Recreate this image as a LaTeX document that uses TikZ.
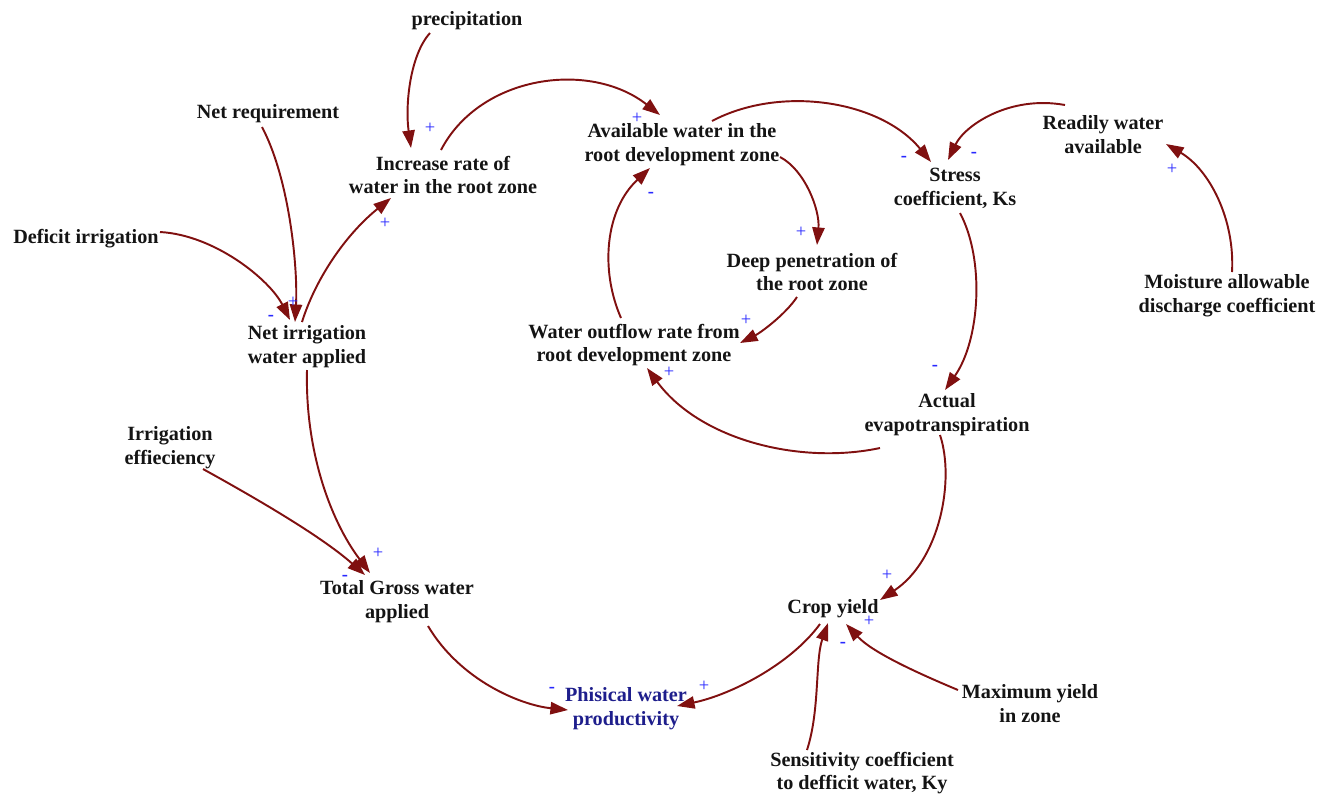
\documentclass[tikz,border=0pt]{standalone}
\usepackage{fontspec}
\setmainfont{Liberation Serif}
\usetikzlibrary{arrows.meta,calc}
\definecolor{linkred}{RGB}{128,16,16}
\definecolor{polblue}{RGB}{40,40,255}
\definecolor{physblue}{RGB}{30,30,140}
\begin{document}
\begin{tikzpicture}[x=0.02cm,y=-0.02cm,
  lbl/.style={font=\fontsize{11.5}{13.6}\selectfont\bfseries,align=center,inner sep=1pt,text=black!92},
  conn/.style={draw=linkred,line width=1.1pt,-{Triangle[length=10pt,width=7pt]}},
  plussign/.style={font=\fontsize{10.5}{10}\selectfont,text=polblue,inner sep=0pt},
  minussign/.style={font=\fontsize{10.5}{10}\selectfont\bfseries,text=polblue,inner sep=0pt}]
\useasboundingbox (0,0) rectangle (1328,796);
% nodes
\node[lbl] (prec) at (467,21) {precipitation};
\node[lbl] (netreq) at (268,114) {Net requirement};
\node[lbl] (inc) at (443,175) {Increase rate of\\water in the root zone};
\node[lbl] (avail) at (682,145) {Available water in the\\root development zone};
\node[lbl] (stress) at (955,188) {Stress\\coefficient, Ks};
\node[lbl] (ready) at (1103,135) {Readily water\\available};
\node[lbl] (deficit) at (86,239) {Deficit irrigation};
\node[lbl] (netirr) at (307,347) {Net irrigation\\water applied};
\node[lbl] (deep) at (812,272) {Deep penetration of\\the root zone};
\node[lbl] (outflow) at (634,345) {Water outflow rate from\\root development zone};
\node[lbl] (moist) at (1227,296) {Moisture allowable\\discharge coefficient};
\node[lbl] (actual) at (947,415) {Actual\\evapotranspiration};
\node[lbl] (irreff) at (170,448) {Irrigation\\effieciency};
\node[lbl] (gross) at (397,602) {Total Gross water\\applied};
\node[lbl] (crop) at (833,609) {Crop yield};
\node[lbl,text=physblue] (phys) at (626,709) {Phisical water\\productivity};
\node[lbl] (maxy) at (1030,704) {Maximum yield\\in zone};
\node[lbl] (sens) at (862,773) {Sensitivity coefficient\\to defficit water, Ky};
% connectors
\draw[conn] ($(prec)+(-37,12)$) .. controls (410,55) and (405,105) .. ($(inc)+(-32,-27)$);
\draw[conn] ($(inc)+(-2,-25)$) .. controls (480,75) and (590,60) .. ($(avail)+(-22,-30)$);
\draw[conn] ($(netreq)+(-6,13)$) .. controls (290,180) and (298,270) .. ($(netirr)+(-12,-25)$);
\draw[conn] ($(deficit)+(74,-7)$) .. controls (215,235) and (270,280) .. ($(netirr)+(-17,-27)$);
\draw[conn] ($(netirr)+(-5,-25)$) .. controls (315,280) and (345,235) .. ($(inc)+(-52,23)$);
\draw[conn] ($(avail)+(30,-24)$) .. controls (780,85) and (880,100) .. ($(stress)+(-24,-26)$);
\draw[conn] ($(ready)+(-38,-30)$) .. controls (1010,95) and (965,125) .. ($(stress)+(-7,-28)$);
\draw[conn] ($(moist)+(5,-24)$) .. controls (1235,220) and (1210,170) .. ($(ready)+(63,9)$);
\draw[conn] ($(avail)+(98,12)$) .. controls (805,170) and (820,210) .. ($(deep)+(5,-27)$);
\draw[conn] ($(deep)+(-15,25)$) .. controls (785,315) and (760,333) .. ($(outflow)+(106,-2)$);
\draw[conn] ($(outflow)+(-13,-27)$) .. controls (600,270) and (605,210) .. ($(avail)+(-32,23)$);
\draw[conn] ($(stress)+(5,25)$) .. controls (985,260) and (980,340) .. ($(actual)+(-2,-25)$);
\draw[conn] ($(actual)+(-67,33)$) .. controls (800,465) and (700,440) .. ($(outflow)+(13,23)$);
\draw[conn] ($(actual)+(-7,20)$) .. controls (955,480) and (940,560) .. ($(crop)+(47,-9)$);
\draw[conn] ($(netirr)+(0,23)$) .. controls (305,450) and (330,520) .. ($(gross)+(-27,-29)$);
\draw[conn] ($(irreff)+(33,21)$) .. controls (250,495) and (320,535) .. ($(gross)+(-32,-27)$);
\draw[conn] ($(gross)+(31,24)$) .. controls (460,680) and (520,705) .. ($(phys)+(-58,1)$);
\draw[conn] ($(crop)+(-13,15)$) .. controls (790,665) and (730,695) .. ($(phys)+(51,-3)$);
\draw[conn] ($(sens)+(-55,-23)$) .. controls (820,710) and (815,660) .. ($(crop)+(-5,14)$);
\draw[conn] ($(maxy)+(-72,-14)$) .. controls (915,672) and (872,652) .. ($(crop)+(13,15)$);
% polarities
\node[plussign] (s1) at (430,128) {+};
\node[plussign] (s2) at (637,118) {+};
\node[plussign] (s3) at (293,302) {+};
\node[minussign] (s4) at (271,318) {-};
\node[plussign] (s5) at (385,223) {+};
\node[minussign] (s6) at (904,159) {-};
\node[minussign] (s7) at (974,155) {-};
\node[plussign] (s8) at (1172,169) {+};
\node[plussign] (s9) at (801,232) {+};
\node[plussign] (s10) at (746,320) {+};
\node[minussign] (s11) at (651,195) {-};
\node[minussign] (s12) at (935,368) {-};
\node[plussign] (s13) at (669,372) {+};
\node[plussign] (s14) at (887,575) {+};
\node[plussign] (s15) at (378,553) {+};
\node[minussign] (s16) at (345,578) {-};
\node[minussign] (s17) at (552,690) {-};
\node[plussign] (s18) at (704,686) {+};
\node[minussign] (s19) at (843,645) {-};
\node[plussign] (s20) at (869,621) {+};
\end{tikzpicture}
\end{document}
